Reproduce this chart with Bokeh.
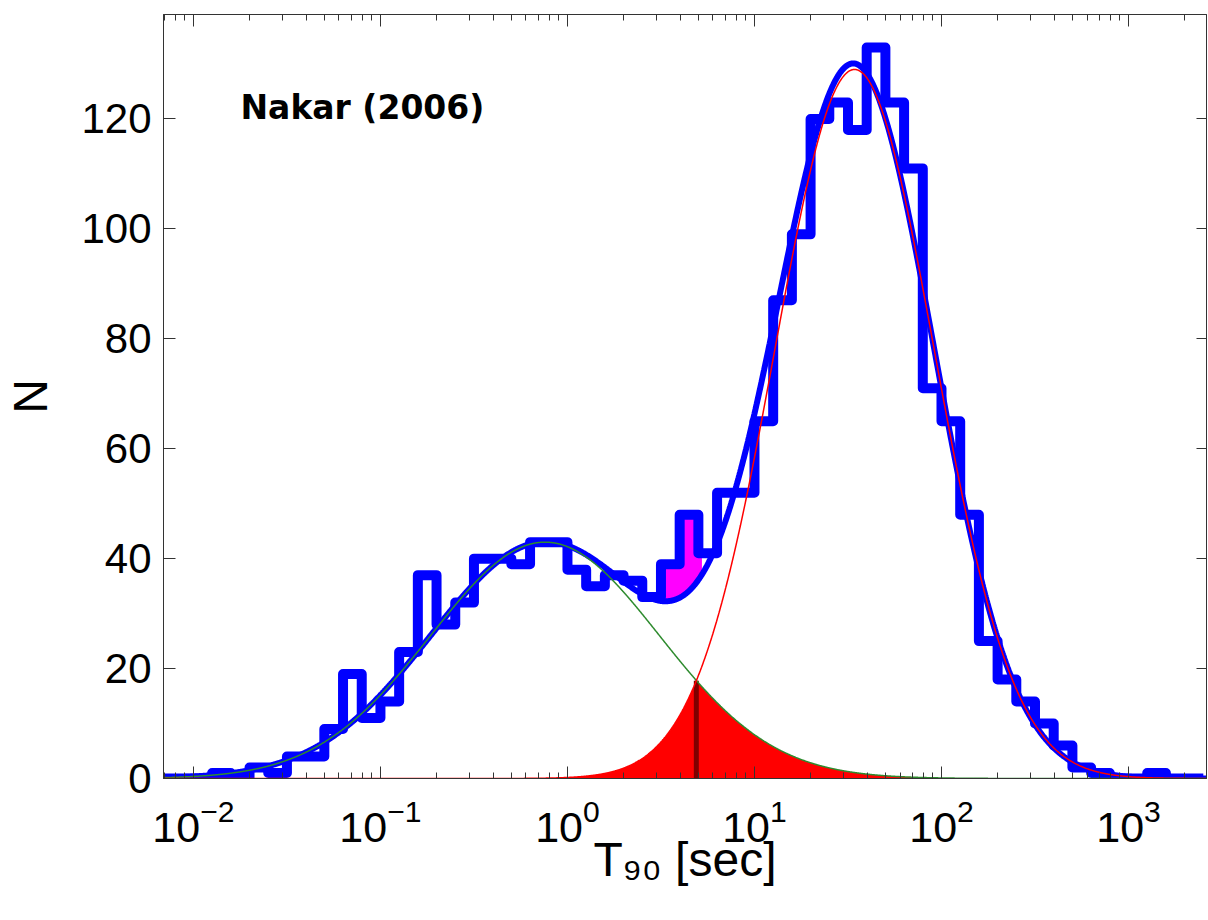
import numpy as np
from bokeh.plotting import figure
from bokeh.models import (LogAxis, LinearAxis, Label, Range1d, FixedTicker, LogTicker,
                          CustomJSTickFormatter)
from bokeh.embed import file_html
from bokeh.resources import INLINE

# ---------------- data ----------------
# histogram: lower edge of each bin (log10 of T90 [s]) and its count
bin_lower_log10 = [-2.3, -2.2, -2.1, -2.0, -1.9, -1.8, -1.7, -1.6, -1.5, -1.4,
                   -1.3, -1.2, -1.1, -1.0, -0.9, -0.8, -0.7, -0.6, -0.5, -0.4,
                   -0.3, -0.2, -0.1, 0.0, 0.1, 0.2, 0.3, 0.4, 0.5, 0.6,
                   0.7, 0.8, 0.9, 1.0, 1.1, 1.2, 1.3, 1.4, 1.5, 1.6,
                   1.7, 1.8, 1.9, 2.0, 2.1, 2.2, 2.3, 2.4, 2.5, 2.6,
                   2.7, 2.8, 2.9, 3.0, 3.1, 3.2, 3.3]
bin_width_log10 = 0.1
counts = [0, 0, 0, 0, 1, 0, 2, 1, 4, 4,
          9, 19, 11, 14, 23, 37, 28, 32, 40, 40,
          39, 43, 43, 38, 35, 37, 36, 33, 39, 48,
          41, 52, 52, 65, 87, 99, 120, 123, 118, 133,
          123, 111, 71, 65, 48, 25, 18, 14, 10, 6,
          2, 1, 0, 0, 1, 0, 0]

# log-normal fits (amplitude, mean of log10 T90, sigma of log10 T90)
short_amp, short_mu, short_sigma = 43.0, -0.12, 0.61
long_amp, long_mu, long_sigma = 129.0, 1.535, 0.425

# region where the excess over the fit is shaded (log10 T90)
excess_lo_log10, excess_hi_log10 = 0.5, 0.72

y_ticks = [0, 20, 40, 60, 80, 100, 120]
x_min_log10, x_max_log10 = -2.16, 3.417
y_max = 139

# ---------------- derived ----------------
edges = 10 ** (np.array(bin_lower_log10 + [bin_lower_log10[-1] + bin_width_log10]))
step_y = counts + [counts[-1]]

lg = np.linspace(-2.4, 3.6, 3000)
xs = 10 ** lg
g_short = short_amp * np.exp(-(lg - short_mu) ** 2 / (2 * short_sigma ** 2))
g_long = long_amp * np.exp(-(lg - long_mu) ** 2 / (2 * long_sigma ** 2))
g_sum = g_short + g_long
overlap = np.minimum(g_short, g_long)

mask = (lg > short_mu) & (lg < long_mu)
i_cross = np.argmin(np.abs(g_short[mask] - g_long[mask]))
x_cross = xs[mask][i_cross]
y_cross = overlap[mask][i_cross]

idx = np.clip(np.searchsorted(edges, xs, side="right") - 1, 0, len(counts) - 1)
hist_at = np.array(counts, dtype=float)[idx]
ex_mask = (lg >= excess_lo_log10) & (lg <= excess_hi_log10)
ex_x = xs[ex_mask]
ex_lo = g_sum[ex_mask]
ex_hi = np.maximum(hist_at[ex_mask], ex_lo)

# ---------------- figure ----------------
p = figure(width=1208, height=920, x_axis_type="log",
           x_range=Range1d(10 ** x_min_log10, 10 ** x_max_log10),
           y_range=Range1d(0, y_max),
           output_backend="svg", toolbar_location=None,
           min_border_left=163, min_border_right=2,
           min_border_top=14, min_border_bottom=142)
p.grid.visible = False
p.outline_line_color = "#333333"
p.background_fill_color = "white"
p.border_fill_color = "white"

AX = "#333333"
FONT = "Liberation Sans"

xa = p.xaxis[0]
xa.ticker = LogTicker(num_minor_ticks=10)
xa.axis_line_color = AX
xa.major_tick_line_color = AX
xa.minor_tick_line_color = AX
xa.major_tick_in = 12
xa.major_tick_out = 0
xa.minor_tick_in = 6
xa.minor_tick_out = 0
xa.major_label_text_font = FONT
xa.major_label_text_font_size = "43px"
xa.major_label_text_color = "black"
xa.major_label_standoff = 20
xa.axis_label = "T\u2089\u2080 [sec]"
xa.axis_label_text_font = FONT
xa.axis_label_text_font_size = "48px"
xa.axis_label_text_font_style = "normal"
xa.axis_label_text_color = "black"
xa.axis_label_standoff = -12

ya = p.yaxis[0]
ya.ticker = FixedTicker(ticks=y_ticks)
ya.axis_line_color = AX
ya.major_tick_line_color = AX
ya.minor_tick_line_color = None
ya.major_tick_in = 12
ya.major_tick_out = 0
ya.major_label_text_font = FONT
ya.major_label_text_font_size = "42px"
ya.major_label_text_color = "black"
ya.major_label_standoff = 12
ya.axis_label = "N"
ya.axis_label_text_font = FONT
ya.axis_label_text_font_size = "48px"
ya.axis_label_text_font_style = "normal"
ya.axis_label_text_color = "black"
ya.axis_label_standoff = 21

blank = CustomJSTickFormatter(code="return ''")
top = LogAxis(ticker=LogTicker(num_minor_ticks=10), formatter=blank, axis_line_color=AX,
              major_tick_line_color=AX, minor_tick_line_color=AX,
              major_tick_in=12, major_tick_out=0, minor_tick_in=6, minor_tick_out=0,
              major_label_standoff=0)
p.add_layout(top, "above")
right = LinearAxis(ticker=FixedTicker(ticks=y_ticks), formatter=blank, axis_line_color=AX,
                   major_tick_line_color=AX, minor_tick_line_color=None,
                   major_tick_in=10, major_tick_out=0, major_label_standoff=0)
p.add_layout(right, "right")

# overlap of the two components
p.varea(x=xs, y1=np.zeros_like(xs), y2=overlap, fill_color="#ff0000", fill_alpha=1.0)
p.segment(x0=[x_cross], y0=[0], x1=[x_cross], y1=[y_cross], line_color="#800000", line_width=5)

# excess of data over fit
p.varea(x=ex_x, y1=ex_lo, y2=ex_hi, fill_color="#ff00ff")

# histogram
p.step(x=edges, y=step_y, mode="after", line_color="#0000ff", line_width=10, line_join="round")

# total fit and components
p.line(xs, g_sum, line_color="#0000ff", line_width=6)
p.line(xs, g_short, line_color="#2e8b2e", line_width=1.5)
p.line(xs, g_long, line_color="#ff0000", line_width=1.5)

# panel text
p.add_layout(Label(x=77, y=671, x_units="screen", y_units="screen", text="Nakar (2006)",
                   text_font="DejaVu Sans", text_font_style="bold", text_font_size="33px",
                   text_color="black", text_baseline="alphabetic"))

open("out.html", "w").write(file_html(p, INLINE))
